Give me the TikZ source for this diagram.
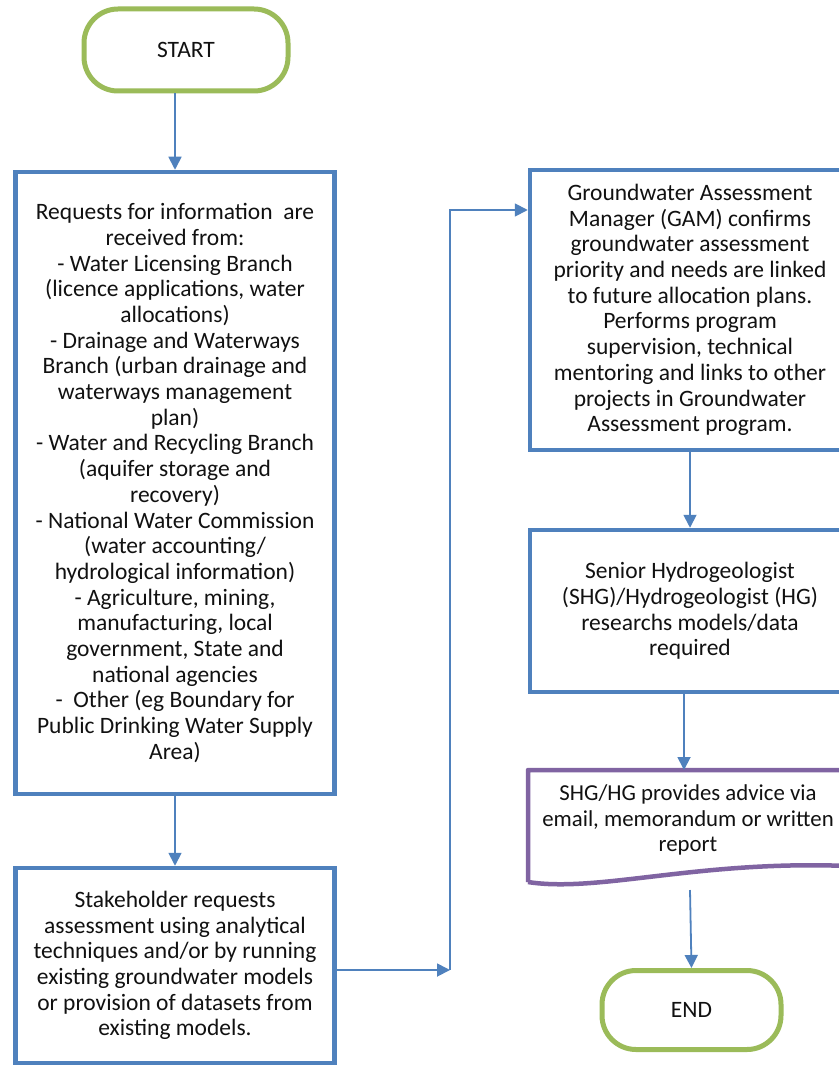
\documentclass[tikz,border=0pt]{standalone}
\usepackage{fontspec}
\setmainfont{Carlito}
\usetikzlibrary{arrows.meta,calc}
\definecolor{flowblue}{HTML}{4F81BD}
\definecolor{flowgreen}{HTML}{9BBB59}
\definecolor{flowpurple}{HTML}{8064A2}
\definecolor{inktext}{HTML}{111111}
\begin{document}
\begin{tikzpicture}[x=1pt,y=-1pt,
  every node/.style={font=\fontsize{23.5}{25.7}\selectfont, text=inktext, align=center, inner sep=0pt},
  terminal/.style={draw=flowgreen, line width=5pt, rounded corners=34pt},
  procbox/.style={draw=flowblue, line width=4.5pt},
  docline/.style={draw=flowpurple, line width=4.5pt, line join=round},
  arr/.style={draw=flowblue, line width=1.8pt, -{Triangle[length=13pt,width=13pt]}}
]
% page frame
\fill[white] (0,0) rectangle (838,1067);
\useasboundingbox (0,0) rectangle (838,1067);

% terminals
\node[terminal, minimum width=204pt, minimum height=82pt] (start) at (186,50) {START};
\node[terminal, minimum width=179pt, minimum height=79pt] (end) at (691.5,1010) {END};

% left column
\node[procbox, minimum width=319pt, minimum height=622pt] (box1) at (175,483) {%
Requests for information~ are\\
received from:\\
- Water Licensing Branch\\
(licence applications, water\\
allocations)\\
- Drainage and Waterways\\
Branch (urban drainage and\\
waterways management\\
plan)\\
- Water and Recycling Branch\\
(aquifer storage and\\
recovery)\\
- National Water Commission\\
(water accounting/\\
hydrological information)\\
- Agriculture, mining,\\
manufacturing, local\\
government, State and\\
national agencies\\
-~ Other (eg Boundary for\\
Public Drinking Water Supply\\
Area)};

\node[procbox, minimum width=319pt, minimum height=195pt] (box2) at (175,965.5) {%
Stakeholder requests\\
assessment using analytical\\
techniques and/or by running\\
existing groundwater models\\
or provision of datasets from\\
existing models.};

% right column
\node[procbox, minimum width=320pt, minimum height=280pt] (box3) at (690,310) {%
Groundwater Assessment\\
Manager (GAM) confirms\\
groundwater assessment\\
priority and needs are linked\\
to future allocation plans.\\
Performs program\\
supervision, technical\\
mentoring and links to other\\
projects in Groundwater\\
Assessment program.};

\node[procbox, minimum width=320pt, minimum height=162pt] (box4) at (690,611) {%
Senior Hydrogeologist\\
(SHG)/Hydrogeologist (HG)\\
researchs models/data\\
required};

% document shape with wavy lower edge
\node[minimum width=320pt, minimum height=100pt, outer sep=0pt,
      font=\fontsize{22.8}{25.7}\selectfont] (doc) at (688,820) {%
SHG/HG provides advice via\\
email, memorandum or written\\
report};
\draw[docline] ($(doc.south west)+(0,12)$) -- (doc.north west) -- (doc.north east)
  -- ($(doc.south east)+(0,-4)$)
  .. controls ($(doc.south west)+(170,-10)$) and ($(doc.south west)+(70,23)$) .. ($(doc.south west)+(0,12)$);

% connectors
\coordinate (j1) at (450,970);
\coordinate (j2) at (450,210);
\coordinate (b4out) at (684,692);
\coordinate (dk) at (690,890);
\draw[arr] (start.south -| box1.north) -- (box1.north);
\draw[arr] (box1.south) -- (box2.north);
\draw[arr] (box2.east |- j1) -- (j1);
\draw[arr] (j1) -- (j2) -- (j2 -| box3.west);
\draw[arr] (box3.south) -- (box4.north);
\draw[arr] (b4out) -- (b4out |- doc.north);
\draw[arr] (dk) -- (end.north);
\end{tikzpicture}
\end{document}
